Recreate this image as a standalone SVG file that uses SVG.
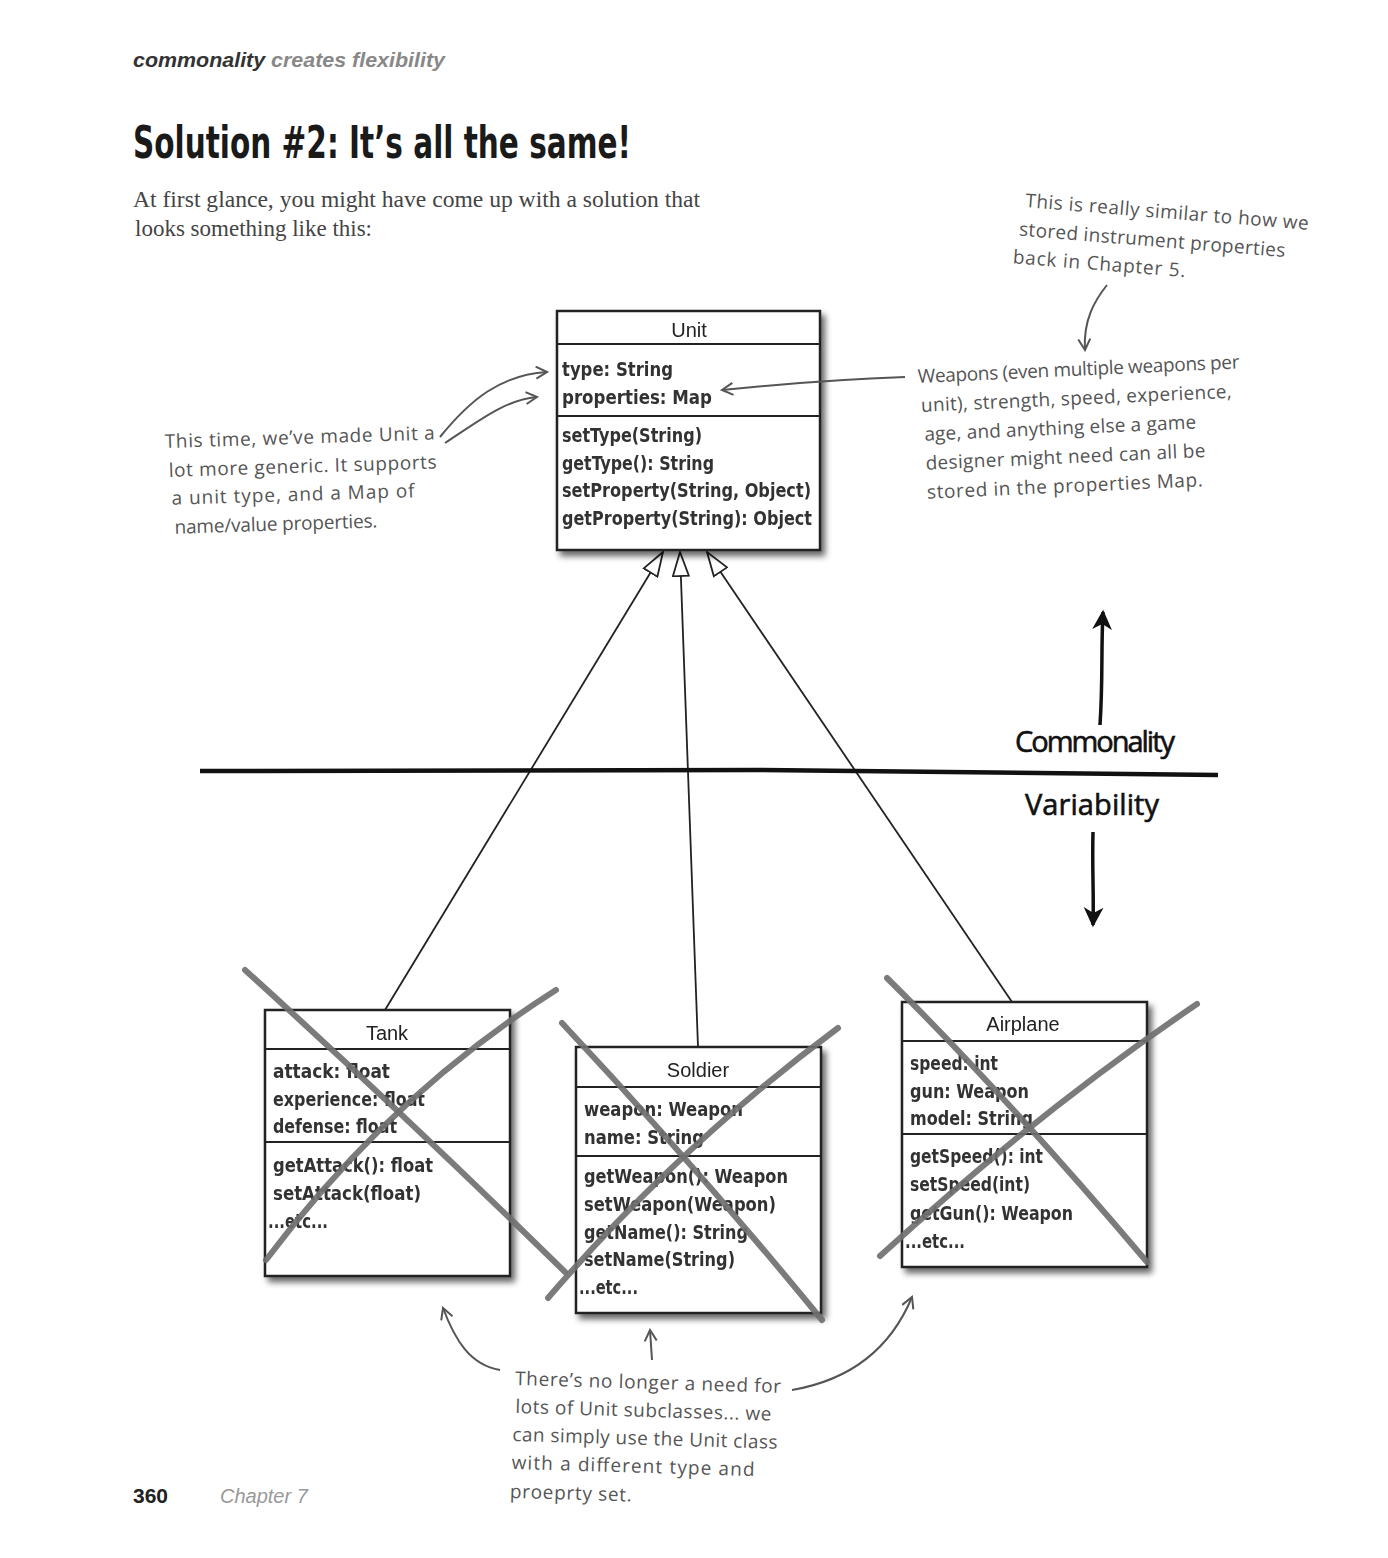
<svg xmlns="http://www.w3.org/2000/svg" width="1388" height="1558" viewBox="0 0 1388 1558">
<defs>
<style>
.box{fill:#fff;stroke:#222;stroke-width:2.5}
.div{stroke:#222;stroke-width:2}
.cname{font-family:'Liberation Sans',Arial,sans-serif;font-size:20px;fill:#222;text-anchor:middle}
.mem{font-family:'DejaVu Sans','Liberation Sans',sans-serif;font-stretch:condensed;font-weight:bold;font-size:19px;fill:#333}
.inh{stroke:#222;stroke-width:1.8;fill:none}
.x{stroke:#707070;stroke-width:6;fill:none;stroke-linecap:round;opacity:0.92}
.note{font-family:'Open Sans','DejaVu Sans',sans-serif;font-size:19px;fill:#555}
.narrow{stroke:#555;stroke-width:2;fill:none}
.hand{font-family:'Open Sans','DejaVu Sans',sans-serif;font-size:29px;fill:#111;stroke:#111;stroke-width:0.6}
</style>
<filter id="sh" x="-10%" y="-10%" width="130%" height="130%">
<feGaussianBlur in="SourceAlpha" stdDeviation="3"/>
<feOffset dx="4" dy="5" result="b"/>
<feComponentTransfer><feFuncA type="linear" slope="0.6"/></feComponentTransfer>
<feMerge><feMergeNode/><feMergeNode in="SourceGraphic"/></feMerge>
</filter>
<marker id="tri" viewBox="0 0 26 18" refX="25" refY="9" markerWidth="26" markerHeight="18" markerUnits="userSpaceOnUse" orient="auto">
<path d="M1,1 L25,9 L1,17 Z" fill="#fff" stroke="#222" stroke-width="1.8"/>
</marker>
<marker id="va" viewBox="0 0 14 14" refX="12" refY="7" markerWidth="14" markerHeight="14" markerUnits="userSpaceOnUse" orient="auto">
<path d="M1,1 L12,7 L1,13" fill="none" stroke="#555" stroke-width="2"/>
</marker>
<marker id="ba" viewBox="0 0 20 20" refX="16" refY="10" markerWidth="22" markerHeight="22" markerUnits="userSpaceOnUse" orient="auto">
<path d="M0,1 L18,10 L0,19 L5,10 Z" fill="#111"/>
</marker>
</defs>
<rect width="1388" height="1558" fill="#fff"/>

<g id="header">
<text x="133" y="67" font-family="'Liberation Sans',Arial,sans-serif" font-style="italic" font-weight="bold" font-size="20.5" textLength="312" lengthAdjust="spacingAndGlyphs"><tspan fill="#333">commonality</tspan><tspan fill="#888"> creates flexibility</tspan></text>
<text x="133" y="158" font-family="'Liberation Sans Narrow','DejaVu Sans Condensed',sans-serif" font-weight="bold" font-size="44" fill="#1a1a1a" textLength="498" lengthAdjust="spacingAndGlyphs">Solution #2: It’s all the same!</text>
<text x="133" y="207" font-family="'Liberation Serif','Times New Roman',serif" font-size="23" fill="#444" textLength="567" lengthAdjust="spacingAndGlyphs">At first glance, you might have come up with a solution that</text>
<text x="135" y="236" font-family="'Liberation Serif','Times New Roman',serif" font-size="23" fill="#444" textLength="237" lengthAdjust="spacingAndGlyphs">looks something like this:</text>
</g>

<g id="connectors">
<line class="inh" x1="385" y1="1010" x2="663" y2="552" marker-end="url(#tri)"/>
<line class="inh" x1="698" y1="1047" x2="680" y2="552" marker-end="url(#tri)"/>
<line class="inh" x1="1012" y1="1002" x2="707" y2="552" marker-end="url(#tri)"/>
</g>

<g id="divider">
<path d="M200,771 L760,770 L1218,775" stroke="#111" stroke-width="4.5" fill="none"/>
<path d="M1100,725 C1103,680 1101,650 1103,612" stroke="#111" stroke-width="3.5" fill="none" marker-end="url(#ba)"/>
<path d="M1093,832 C1092,870 1094,895 1093,925" stroke="#111" stroke-width="3.5" fill="none" marker-end="url(#ba)"/>
<text class="hand" x="1015" y="752" textLength="160">Commonality</text>
<text class="hand" x="1025" y="815" textLength="134">Variability</text>
</g>

<g id="unit" filter="url(#sh)">
<rect class="box" x="557" y="311" width="263" height="239"/>
<line class="div" x1="557" y1="344" x2="820" y2="344"/>
<line class="div" x1="557" y1="416" x2="820" y2="416"/>
<text class="cname" x="689" y="337">Unit</text>
<text class="mem" x="562" y="376" textLength="111" lengthAdjust="spacingAndGlyphs">type: String</text>
<text class="mem" x="562" y="404" textLength="150" lengthAdjust="spacingAndGlyphs">properties: Map</text>
<text class="mem" x="562" y="442" textLength="140" lengthAdjust="spacingAndGlyphs">setType(String)</text>
<text class="mem" x="562" y="470" textLength="152" lengthAdjust="spacingAndGlyphs">getType(): String</text>
<text class="mem" x="562" y="497" textLength="249" lengthAdjust="spacingAndGlyphs">setProperty(String, Object)</text>
<text class="mem" x="562" y="525" textLength="250" lengthAdjust="spacingAndGlyphs">getProperty(String): Object</text>
</g>

<g id="tank">
<g filter="url(#sh)">
<rect class="box" x="265" y="1010" width="245" height="266"/>
<line class="div" x1="265" y1="1049" x2="510" y2="1049"/>
<line class="div" x1="265" y1="1142" x2="510" y2="1142"/>
<text class="cname" x="387" y="1040">Tank</text>
<text class="mem" x="273" y="1078" textLength="117" lengthAdjust="spacingAndGlyphs">attack: float</text>
<text class="mem" x="273" y="1106" textLength="152" lengthAdjust="spacingAndGlyphs">experience: float</text>
<text class="mem" x="273" y="1133" textLength="124" lengthAdjust="spacingAndGlyphs">defense: float</text>
<text class="mem" x="273" y="1172" textLength="160" lengthAdjust="spacingAndGlyphs">getAttack(): float</text>
<text class="mem" x="273" y="1200" textLength="148" lengthAdjust="spacingAndGlyphs">setAttack(float)</text>
<text class="mem" x="268" y="1228" textLength="60" lengthAdjust="spacingAndGlyphs">...etc...</text>
</g>
<path class="x" d="M245,970 Q405,1115 565,1272"/>
<path class="x" d="M266,1260 Q390,1095 556,990"/>
</g>

<g id="soldier">
<g filter="url(#sh)">
<rect class="box" x="576" y="1047" width="245" height="266"/>
<line class="div" x1="576" y1="1087" x2="821" y2="1087"/>
<line class="div" x1="576" y1="1156" x2="821" y2="1156"/>
<text class="cname" x="698" y="1077">Soldier</text>
<text class="mem" x="584" y="1116" textLength="159" lengthAdjust="spacingAndGlyphs">weapon: Weapon</text>
<text class="mem" x="584" y="1144" textLength="120" lengthAdjust="spacingAndGlyphs">name: String</text>
<text class="mem" x="584" y="1183" textLength="204" lengthAdjust="spacingAndGlyphs">getWeapon(): Weapon</text>
<text class="mem" x="584" y="1211" textLength="192" lengthAdjust="spacingAndGlyphs">setWeapon(Weapon)</text>
<text class="mem" x="584" y="1239" textLength="164" lengthAdjust="spacingAndGlyphs">getName(): String</text>
<text class="mem" x="584" y="1266" textLength="151" lengthAdjust="spacingAndGlyphs">setName(String)</text>
<text class="mem" x="579" y="1294" textLength="59" lengthAdjust="spacingAndGlyphs">...etc...</text>
</g>
<path class="x" d="M562,1023 Q695,1165 822,1320"/>
<path class="x" d="M548,1298 Q680,1145 838,1028"/>
</g>

<g id="airplane">
<g filter="url(#sh)">
<rect class="box" x="902" y="1002" width="245" height="265"/>
<line class="div" x1="902" y1="1041" x2="1147" y2="1041"/>
<line class="div" x1="902" y1="1134" x2="1147" y2="1134"/>
<text class="cname" x="1023" y="1031">Airplane</text>
<text class="mem" x="910" y="1070" textLength="88" lengthAdjust="spacingAndGlyphs">speed: int</text>
<text class="mem" x="910" y="1098" textLength="119" lengthAdjust="spacingAndGlyphs">gun: Weapon</text>
<text class="mem" x="910" y="1125" textLength="123" lengthAdjust="spacingAndGlyphs">model: String</text>
<text class="mem" x="910" y="1163" textLength="133" lengthAdjust="spacingAndGlyphs">getSpeed(): int</text>
<text class="mem" x="910" y="1191" textLength="120" lengthAdjust="spacingAndGlyphs">setSpeed(int)</text>
<text class="mem" x="910" y="1220" textLength="163" lengthAdjust="spacingAndGlyphs">getGun(): Weapon</text>
<text class="mem" x="905" y="1248" textLength="60" lengthAdjust="spacingAndGlyphs">...etc...</text>
</g>
<path class="x" d="M887,978 Q1010,1100 1147,1262"/>
<path class="x" d="M880,1256 Q1040,1110 1197,1004"/>
</g>

<g id="note-left">
<g transform="rotate(-1.8 165 448)">
<text class="note" x="165" y="448" textLength="270">This time, we’ve made Unit a</text>
<text class="note" x="168" y="477" textLength="268">lot more generic. It supports</text>
<text class="note" x="170" y="505" textLength="243">a unit type, and a Map of</text>
<text class="note" x="172" y="534" textLength="203">name/value properties.</text>
</g>
<path class="narrow" d="M440,437 C470,400 500,375 547,372" marker-end="url(#va)"/>
<path class="narrow" d="M445,443 C480,420 505,400 537,397" marker-end="url(#va)"/>
</g>

<g id="note-right">
<g transform="rotate(-2.6 918 383)">
<text class="note" x="918" y="383" textLength="322">Weapons (even multiple weapons per</text>
<text class="note" x="920" y="412" textLength="311">unit), strength, speed, experience,</text>
<text class="note" x="922" y="441" textLength="272">age, and anything else a game</text>
<text class="note" x="922" y="470" textLength="280">designer might need can all be</text>
<text class="note" x="922" y="499" textLength="276">stored in the properties Map.</text>
</g>
<path class="narrow" d="M905,377 Q820,380 722,390" marker-end="url(#va)"/>
</g>

<g id="note-top">
<g transform="rotate(4.6 1025 207)">
<text class="note" x="1025" y="207" textLength="284">This is really similar to how we</text>
<text class="note" x="1021" y="236" textLength="267">stored instrument properties</text>
<text class="note" x="1017" y="264" textLength="173">back in Chapter 5.</text>
</g>
<path class="narrow" d="M1107,285 C1095,300 1083,320 1085,350" marker-end="url(#va)"/>
</g>

<g id="note-bottom">
<g transform="rotate(1.7 515 1385)">
<text class="note" x="515" y="1385" textLength="266">There’s no longer a need for</text>
<text class="note" x="516" y="1413" textLength="256">lots of Unit subclasses... we</text>
<text class="note" x="514" y="1441" textLength="265">can simply use the Unit class</text>
<text class="note" x="514" y="1469" textLength="243">with a different type and</text>
<text class="note" x="513" y="1498" textLength="122">proeprty set.</text>
</g>
<path class="narrow" d="M500,1370 C470,1365 455,1340 443,1308" marker-end="url(#va)"/>
<path class="narrow" d="M652,1360 L650,1330" marker-end="url(#va)"/>
<path class="narrow" d="M792,1390 C850,1380 890,1350 912,1297" marker-end="url(#va)"/>
</g>

<g id="footer">
<text x="133" y="1503" font-family="'Liberation Sans',Arial,sans-serif" font-weight="bold" font-size="21" fill="#222">360</text>
<text x="220" y="1503" font-family="'Liberation Sans',Arial,sans-serif" font-style="italic" font-size="20" fill="#999">Chapter 7</text>
</g>
</svg>
